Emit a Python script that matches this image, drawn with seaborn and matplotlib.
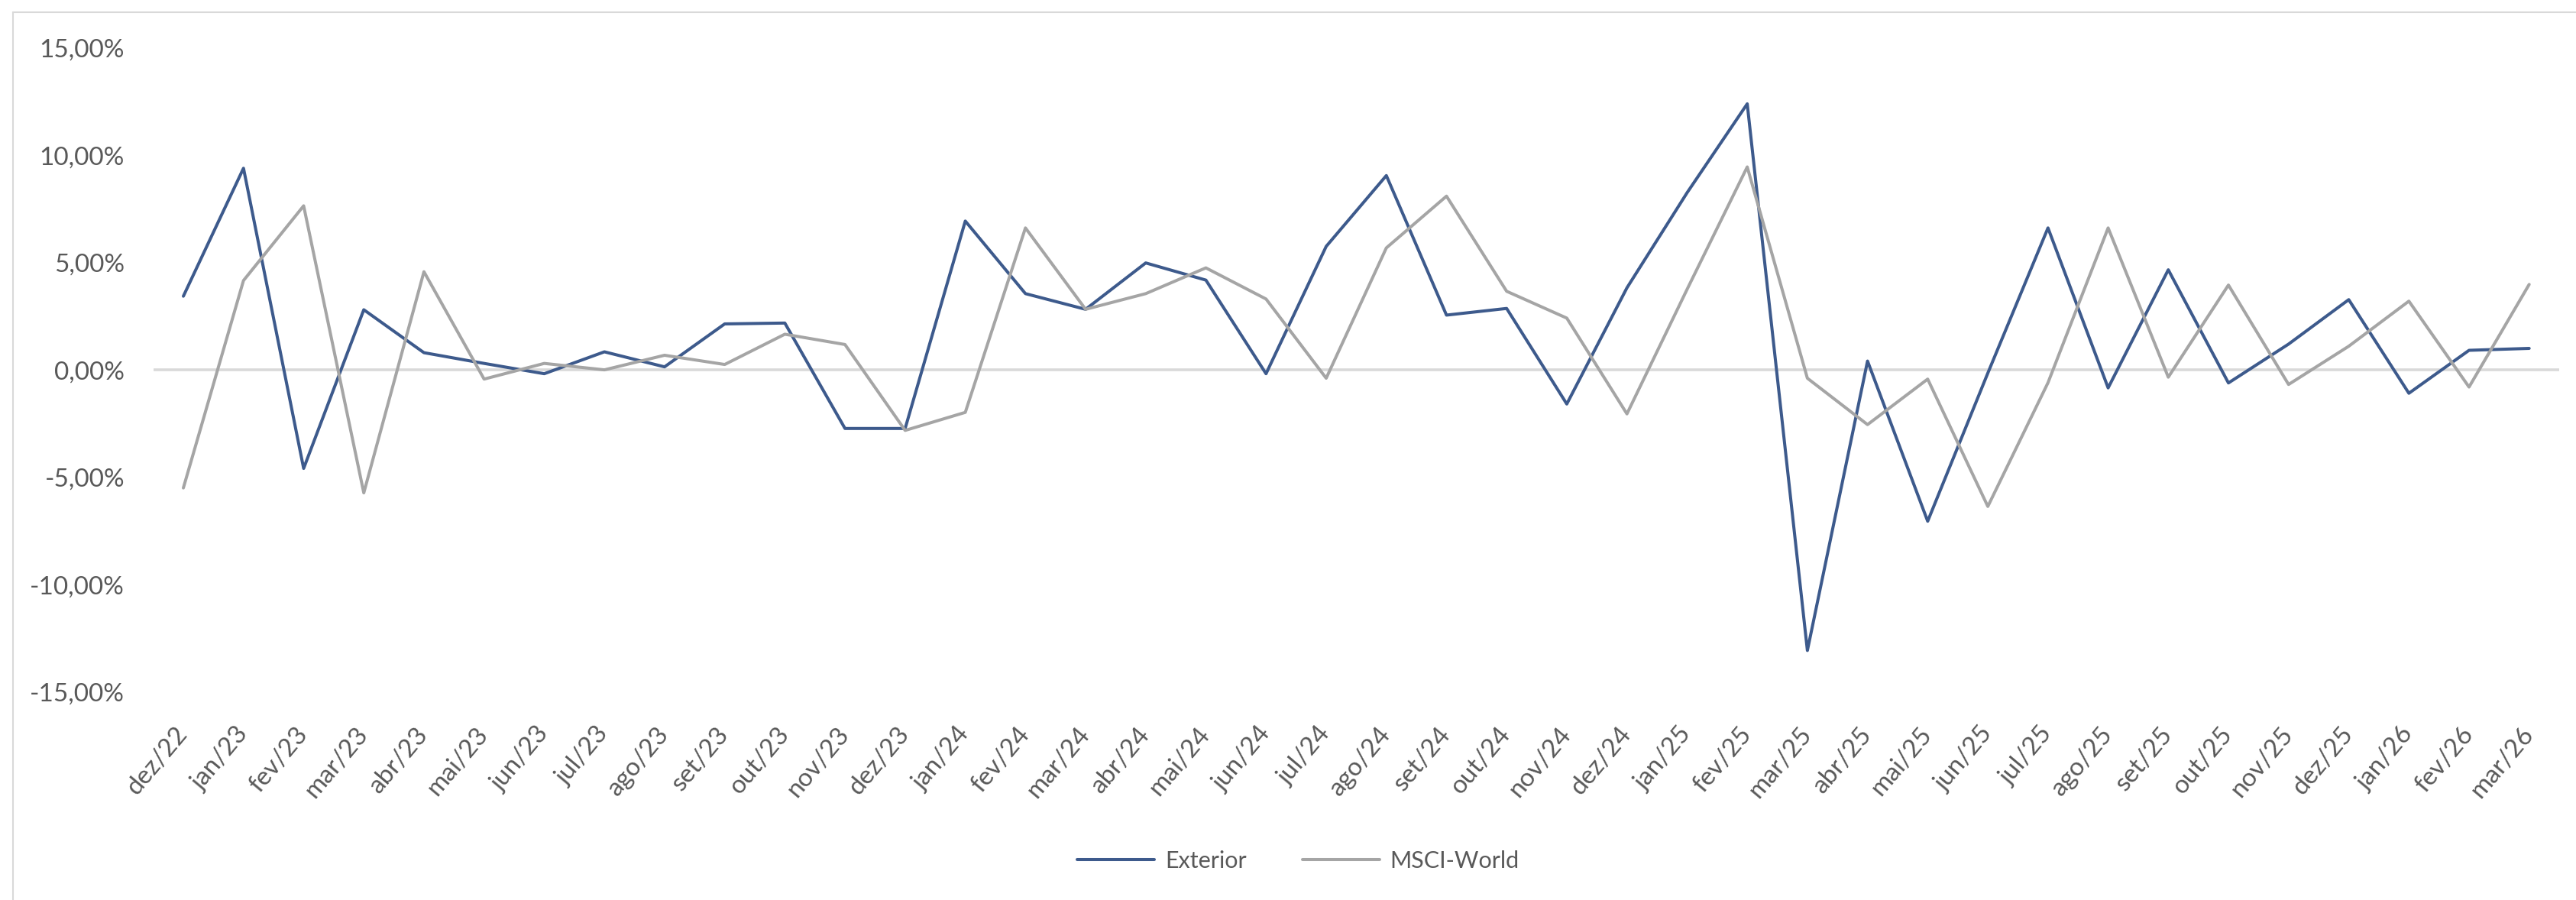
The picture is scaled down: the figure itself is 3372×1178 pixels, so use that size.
import numpy as np
import pandas as pd
import matplotlib
matplotlib.use("Agg")
import matplotlib.pyplot as plt
import matplotlib.ticker as mticker
from matplotlib.lines import Line2D
import seaborn as sns

months = [
    "dez/22",
    "jan/23", "fev/23", "mar/23", "abr/23", "mai/23", "jun/23",
    "jul/23", "ago/23", "set/23", "out/23", "nov/23", "dez/23",
    "jan/24", "fev/24", "mar/24", "abr/24", "mai/24", "jun/24",
    "jul/24", "ago/24", "set/24", "out/24", "nov/24", "dez/24",
    "jan/25", "fev/25", "mar/25", "abr/25", "mai/25", "jun/25",
    "jul/25", "ago/25", "set/25", "out/25", "nov/25", "dez/25",
    "jan/26", "fev/26", "mar/26",
]

# monthly returns, in %
exterior = [
    3.43, 9.39, -4.59, 2.80, 0.80, 0.30, -0.18, 0.84, 0.14, 2.14,
    2.18, -2.73, -2.73, 6.93, 3.55, 2.82, 4.98, 4.18, -0.18, 5.75,
    9.05, 2.55, 2.86, -1.59, 3.82, 8.25, 12.39, -13.07, 0.41, -7.05,
    -0.15, 6.61, -0.84, 4.66, -0.61, 1.20, 3.27, -1.09, 0.91, 1.00,
]
msci_world = [
    -5.50, 4.16, 7.64, -5.73, 4.57, -0.43, 0.30, 0.00, 0.68, 0.25,
    1.66, 1.18, -2.82, -1.98, 6.61, 2.82, 3.55, 4.75, 3.30, -0.39,
    5.68, 8.09, 3.66, 2.41, -2.05, 3.75, 9.45, -0.39, -2.55, -0.43,
    -6.36, -0.60, 6.61, -0.34, 3.95, -0.68, 1.10, 3.20, -0.80, 3.98,
]

series_names = ["Exterior", "MSCI-World"]
colors = {"Exterior": "#3D5A8C", "MSCI-World": "#A5A5A5"}

df = pd.DataFrame({
    "mes": months * 2,
    "pos": list(range(len(months))) * 2,
    "valor": exterior + msci_world,
    "serie": ["Exterior"] * len(months) + ["MSCI-World"] * len(months),
})

sns.set_theme(style="white")
plt.rcParams["font.family"] = ["Lato", "DejaVu Sans"]
text_color = "#595959"

fig = plt.figure(figsize=(33.72, 11.78), dpi=100)
ax = fig.add_axes([0.0595, 0.2312, 0.934, 0.7157])

ax.axhline(0, color="#D9D9D9", lw=2.6, zorder=1)

sns.lineplot(data=df, x="pos", y="valor", hue="serie", hue_order=series_names,
             palette=colors, linewidth=2.9, ax=ax, zorder=3)

ax.set_xlim(-0.5, len(months) - 0.5)
ax.set_ylim(-15, 15)
ax.set_yticks(np.arange(-15, 16, 5))
ax.yaxis.set_major_formatter(
    mticker.FuncFormatter(lambda v, p: f"{v:.2f}%".replace(".", ",")))
ax.set_xticks(range(len(months)))
ax.set_xticklabels(months, rotation=50, ha="right", va="center",
                   rotation_mode="anchor")
ax.tick_params(axis="x", length=0, pad=36, labelsize=24, labelcolor=text_color)
ax.tick_params(axis="y", length=0, pad=27, labelsize=24, labelcolor=text_color)
ax.set_xlabel("")
ax.set_ylabel("")
for s in ax.spines.values():
    s.set_visible(False)

handles, labels = ax.get_legend_handles_labels()
ax.get_legend().remove()
fig.legend(handles, labels, loc="center", bbox_to_anchor=(0.504, 0.0433),
           ncol=2, frameon=False, fontsize=22, labelcolor=text_color,
           handlelength=3.3, handletextpad=0.45, columnspacing=2.4)

# thin chart-area border (top and left visible)
fig.add_artist(Line2D([0.005, 0.005], [0, 0.9864], transform=fig.transFigure,
                      color="#D9D9D9", lw=1.5))
fig.add_artist(Line2D([0.005, 1.0], [0.9864, 0.9864], transform=fig.transFigure,
                      color="#D9D9D9", lw=1.5))

fig.savefig("out.png", dpi=100, facecolor="white")
